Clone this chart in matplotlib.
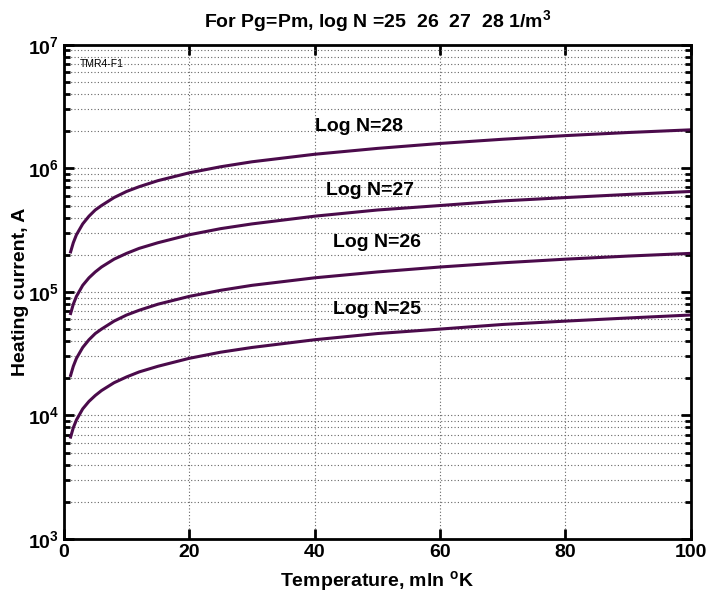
import matplotlib.pyplot as plt
import numpy as np

plt.rcParams['font.family'] = ['Liberation Sans', 'DejaVu Sans']
plt.rcParams['mathtext.fontset'] = 'custom'
plt.rcParams['mathtext.rm'] = 'Liberation Sans:bold'
plt.rcParams['mathtext.bf'] = 'Liberation Sans:bold'
plt.rcParams['mathtext.default'] = 'bf'

# temperature, mln K
temp = [1, 1.5, 2, 3, 4, 5, 6, 8, 10, 12, 15, 20, 25, 30, 40, 50, 60, 70, 80, 90, 100]

# heating current, A
cur_n25 = [6.5e3, 7.95e3, 9.2e3, 1.13e4, 1.3e4, 1.45e4, 1.59e4, 1.84e4, 2.05e4,
           2.25e4, 2.5e4, 2.9e4, 3.25e4, 3.55e4, 4.1e4, 4.6e4, 5.0e4, 5.45e4,
           5.8e4, 6.15e4, 6.5e4]
cur_n26 = [2.05e4, 2.5e4, 2.9e4, 3.55e4, 4.1e4, 4.6e4, 5.0e4, 5.8e4, 6.5e4,
           7.1e4, 7.95e4, 9.2e4, 1.03e5, 1.13e5, 1.3e5, 1.45e5, 1.59e5, 1.72e5,
           1.84e5, 1.95e5, 2.05e5]
cur_n27 = [6.5e4, 7.95e4, 9.2e4, 1.13e5, 1.3e5, 1.45e5, 1.59e5, 1.84e5, 2.05e5,
           2.25e5, 2.5e5, 2.9e5, 3.25e5, 3.55e5, 4.1e5, 4.6e5, 5.0e5, 5.45e5,
           5.8e5, 6.15e5, 6.5e5]
cur_n28 = [2.05e5, 2.5e5, 2.9e5, 3.55e5, 4.1e5, 4.6e5, 5.0e5, 5.8e5, 6.5e5,
           7.1e5, 7.95e5, 9.2e5, 1.03e6, 1.13e6, 1.3e6, 1.45e6, 1.59e6, 1.72e6,
           1.84e6, 1.95e6, 2.05e6]

labels = ['Log N=25', 'Log N=26', 'Log N=27', 'Log N=28']
label_x = [49.9, 49.9, 48.8, 47.0]
label_y = [7.24e4, 2.53e5, 6.67e5, 2.2e6]

color = '#4b0b4b'

fig = plt.figure(figsize=(7.10, 5.94), dpi=100)
ax = fig.add_axes([0.090, 0.0926, 0.883, 0.832])

for c in [cur_n25, cur_n26, cur_n27, cur_n28]:
    ax.plot(temp, c, color=color, lw=2.2, solid_capstyle='butt')

for lab, x, y in zip(labels, label_x, label_y):
    ax.text(x, y, lab, ha='center', va='center', fontsize=14, fontweight='bold')

ax.text(2.6, 7.0e6, 'TMR4-F1', ha='left', va='center', fontsize=7.5)

ax.set_yscale('log')
ax.set_xlim(0, 100)
ax.set_ylim(1e3, 1e7)
ax.set_xticks([0, 20, 40, 60, 80, 100])

ax.grid(True, which='major', axis='both', linestyle=(0, (1, 2)), color='#666666', lw=0.8)
ax.grid(True, which='minor', axis='y', linestyle=(0, (1, 2)), color='#666666', lw=0.8)

ax.tick_params(which='both', direction='in', top=True, right=True, width=2,
               labelsize=14)
ax.tick_params(which='major', length=7)
ax.tick_params(which='minor', length=4)
for lbl in ax.get_xticklabels() + ax.get_yticklabels():
    lbl.set_fontweight('bold')
for sp in ax.spines.values():
    sp.set_linewidth(2)

ax.set_title(r'For Pg=Pm, log N =25  26  27  28 1/m$^{3}$', fontsize=14,
             fontweight='bold', pad=13)
ax.set_xlabel(r'Temperature, mln $^{\mathrm{o}}$K', fontsize=14,
              fontweight='bold', labelpad=6)
ax.set_ylabel('Heating current, A', fontsize=14, fontweight='bold', labelpad=-1)

fig.savefig('out.png', dpi=100)
